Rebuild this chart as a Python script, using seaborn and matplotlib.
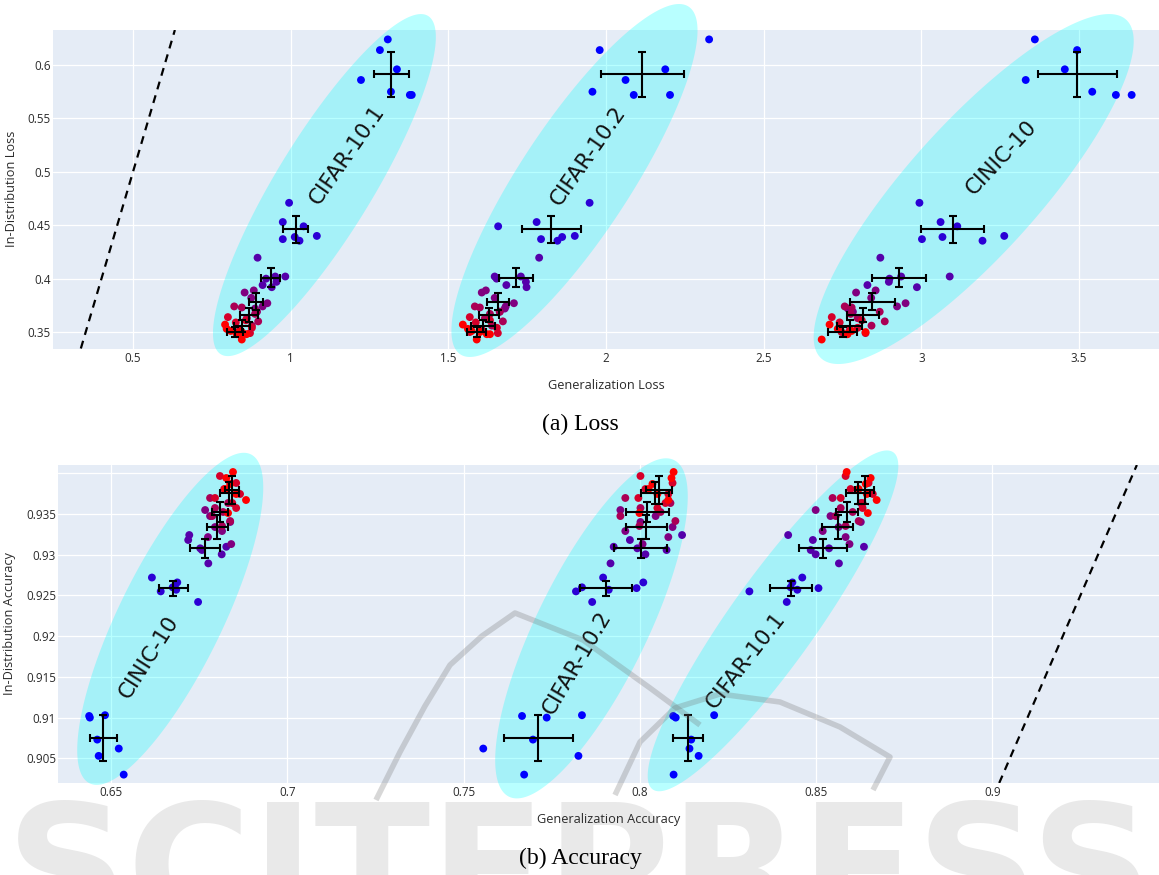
import numpy as np
import pandas as pd
import matplotlib
matplotlib.use("Agg")
import matplotlib.pyplot as plt
from matplotlib.lines import Line2D
import seaborn as sns

DATASETS = ["CIFAR-10.1", "CIFAR-10.2", "CINIC-10"]

# ---- Loss: one row per training stage (early -> late), one value per run ----
loss_id = [
    [0.624, 0.614, 0.596, 0.586, 0.575, 0.572, 0.572],
    [0.471, 0.453, 0.437, 0.449, 0.439, 0.4355, 0.440],
    [0.4196, 0.400, 0.402, 0.402, 0.394, 0.392, 0.397],
    [0.387, 0.389, 0.382, 0.377, 0.374, 0.369, 0.372],
    [0.374, 0.373, 0.369, 0.360, 0.363, 0.356, 0.367],
    [0.364, 0.359, 0.352, 0.361, 0.349, 0.354, 0.350],
    [0.357, 0.353, 0.351, 0.350, 0.343, 0.348, 0.348],
]
loss_cifar101 = [
    [1.308, 1.283, 1.337, 1.223, 1.318, 1.378, 1.384],
    [0.995, 0.975, 0.975, 1.041, 1.013, 1.028, 1.083],
    [0.895, 0.922, 0.951, 0.983, 0.911, 0.940, 0.955],
    [0.854, 0.883, 0.875, 0.926, 0.911, 0.893, 0.887],
    [0.821, 0.845, 0.892, 0.897, 0.861, 0.877, 0.887],
    [0.801, 0.826, 0.839, 0.858, 0.871, 0.877, 0.845],
    [0.792, 0.797, 0.810, 0.839, 0.845, 0.860, 0.829],
]
loss_cifar102 = [
    [2.327, 1.980, 2.188, 2.062, 1.957, 2.088, 2.203],
    [1.948, 1.780, 1.794, 1.658, 1.861, 1.846, 1.901],
    [1.788, 1.653, 1.647, 1.730, 1.684, 1.748, 1.746],
    [1.606, 1.619, 1.647, 1.708, 1.682, 1.663, 1.679],
    [1.584, 1.600, 1.663, 1.673, 1.616, 1.638, 1.632],
    [1.568, 1.587, 1.606, 1.632, 1.657, 1.654, 1.568],
    [1.546, 1.562, 1.574, 1.600, 1.590, 1.632, 1.622],
]
loss_cinic = [
    [3.360, 3.494, 3.455, 3.331, 3.542, 3.617, 3.667],
    [2.994, 3.061, 3.002, 3.114, 3.067, 3.194, 3.263],
    [2.870, 2.899, 2.936, 3.090, 2.829, 2.986, 2.897],
    [2.793, 2.855, 2.841, 2.950, 2.923, 2.783, 2.767],
    [2.757, 2.779, 2.868, 2.884, 2.798, 2.842, 2.776],
    [2.716, 2.741, 2.773, 2.811, 2.823, 2.798, 2.747],
    [2.709, 2.735, 2.779, 2.823, 2.684, 2.766, 2.763],
]

# ---- Accuracy ----
acc_id = [
    [0.9100, 0.9102, 0.9103, 0.9073, 0.9053, 0.9062, 0.9030],
    [0.9272, 0.9266, 0.9260, 0.9259, 0.9257, 0.9255, 0.9242],
    [0.93242, 0.93181, 0.93098, 0.93079, 0.93058, 0.93005, 0.92894],
    [0.93549, 0.93475, 0.93402, 0.93340, 0.93291, 0.93217, 0.93131],
    [0.93697, 0.93635, 0.93574, 0.93525, 0.93475, 0.93414, 0.93353],
    [0.93967, 0.93881, 0.93807, 0.93746, 0.93697, 0.93635, 0.93574],
    [0.94016, 0.93942, 0.93869, 0.93807, 0.93746, 0.93672, 0.93512],
]
acc_cifar101 = [
    [0.8102, 0.8095, 0.8211, 0.8146, 0.8167, 0.8141, 0.8096],
    [0.8461, 0.8433, 0.8428, 0.8507, 0.8447, 0.8311, 0.8417],
    [0.8421, 0.8491, 0.8636, 0.8537, 0.8485, 0.8499, 0.8565],
    [0.8499, 0.8541, 0.8627, 0.8564, 0.8519, 0.8584, 0.8595],
    [0.8547, 0.8627, 0.8570, 0.8604, 0.8556, 0.8621, 0.8584],
    [0.8584, 0.8649, 0.8598, 0.8661, 0.8570, 0.8632, 0.8632],
    [0.8587, 0.8655, 0.8641, 0.8621, 0.8644, 0.8672, 0.8647],
]
acc_cifar102 = [
    [0.7736, 0.7666, 0.7836, 0.7697, 0.7826, 0.7556, 0.7672],
    [0.7896, 0.8010, 0.7836, 0.7991, 0.7912, 0.7819, 0.7865],
    [0.8120, 0.7972, 0.7926, 0.7993, 0.8076, 0.8016, 0.7917],
    [0.7945, 0.8045, 0.8002, 0.8093, 0.7959, 0.8081, 0.8008],
    [0.7959, 0.8087, 0.8002, 0.8059, 0.7945, 0.8101, 0.7999],
    [0.8002, 0.8093, 0.8016, 0.8081, 0.7996, 0.8073, 0.8050],
    [0.8096, 0.8090, 0.8036, 0.8025, 0.8050, 0.8081, 0.7999],
]
acc_cinic = [
    [0.6440, 0.6438, 0.6483, 0.6461, 0.6465, 0.6522, 0.6536],
    [0.6616, 0.6688, 0.6675, 0.6682, 0.6685, 0.6641, 0.6747],
    [0.6722, 0.6719, 0.6827, 0.6753, 0.6758, 0.6814, 0.6776],
    [0.6767, 0.6781, 0.6838, 0.6795, 0.6815, 0.6775, 0.6841],
    [0.6781, 0.6832, 0.6795, 0.6818, 0.6787, 0.6838, 0.6815],
    [0.6809, 0.6855, 0.6821, 0.6866, 0.6795, 0.6844, 0.6855],
    [0.6846, 0.6827, 0.6838, 0.6824, 0.6855, 0.6883, 0.6832],
]

loss_xticks = [0.5, 1, 1.5, 2, 2.5, 3, 3.5]
loss_xticklabels = ["0.5", "1", "1.5", "2", "2.5", "3", "3.5"]
loss_yticks = [0.35, 0.4, 0.45, 0.5, 0.55, 0.6]
loss_yticklabels = ["0.35", "0.4", "0.45", "0.5", "0.55", "0.6"]
acc_xticks = [0.65, 0.7, 0.75, 0.8, 0.85, 0.9]
acc_xticklabels = ["0.65", "0.7", "0.75", "0.8", "0.85", "0.9"]
acc_yticks = [0.905, 0.91, 0.915, 0.92, 0.925, 0.93, 0.935, 0.94]
acc_yticklabels = ["0.905", "0.91", "0.915", "0.92", "0.925", "0.93", "0.935", ""]


def to_frame(id_vals, gen_by_dataset):
    rows = []
    for name, gen in zip(DATASETS, gen_by_dataset):
        for stage, (ys, xs) in enumerate(zip(id_vals, gen)):
            for x, y in zip(xs, ys):
                rows.append({"dataset": name, "stage": stage, "gen": x, "id": y})
    return pd.DataFrame(rows).sort_values("stage", kind="stable")


loss_df = to_frame(loss_id, [loss_cifar101, loss_cifar102, loss_cinic])
acc_df = to_frame(acc_id, [acc_cifar101, acc_cifar102, acc_cinic])

# stage colour: blue (early) -> red (late)
n_stages = len(loss_id)
stage_palette = {k: (k / (n_stages - 1), 0.0, 1.0 - k / (n_stages - 1)) for k in range(n_stages)}

# highlighted regions: centre, conjugate half-axes (data units), label placement
loss_regions = [
    dict(name="CIFAR-10.1", center=(1.107, 0.4876), major=(0.3286, 0.1584),
         minor=(-0.1300, 0.0235), text=(1.178, 0.5157), angle=55),
    dict(name="CIFAR-10.2", center=(1.900, 0.4919), major=(0.3620, 0.1628),
         minor=(-0.1458, 0.0283), text=(1.942, 0.5148), angle=55),
    dict(name="CINIC-10", center=(3.166, 0.4839), major=(0.4834, 0.1586),
         minor=(-0.1545, 0.0411), text=(3.254, 0.5129), angle=47),
]
acc_regions = [
    dict(name="CINIC-10", center=(0.6668, 0.92213), major=(0.02287, 0.02020),
         minor=(-0.01316, 0.00279), text=(0.6606, 0.91737), angle=57.5),
    dict(name="CIFAR-10.2", center=(0.7863, 0.92096), major=(0.02341, 0.02067),
         minor=(-0.01407, 0.00298), text=(0.7822, 0.91666), angle=59.5),
    dict(name="CIFAR-10.1", center=(0.8378, 0.92188), major=(0.03413, 0.02070),
         minor=(-0.00994, 0.00307), text=(0.8300, 0.91694), angle=52),
]

sns.set_theme(style="darkgrid", rc={
    "axes.facecolor": "#E5ECF6",
    "grid.color": "white",
    "grid.linewidth": 0.9,
    "axes.edgecolor": "none",
})
plt.rcParams["font.family"] = ["Open Sans", "DejaVu Sans"]

TXT = "#2b2b2b"
W, H = 1159, 875
fig = plt.figure(figsize=(W / 100, H / 100), dpi=100)
ax_loss = fig.add_axes([53 / W, 1 - 348.5 / H, (W - 53) / W, 318.5 / H])
ax_acc = fig.add_axes([58 / W, 1 - 783 / H, (W - 58) / W, 318 / H])


def draw_panel(ax, df, regions, xlim, ylim, xticks, xticklabels, yticks, yticklabels,
               xlabel, ylabel):
    ax.set_xlim(*xlim)
    ax.set_ylim(*ylim)
    ax.set_axisbelow(True)

    t = np.linspace(0, 2 * np.pi, 240)
    for r in regions:
        cx, cy = r["center"]
        ux, uy = r["major"]
        vx, vy = r["minor"]
        ax.fill(cx + ux * np.cos(t) + vx * np.sin(t),
                cy + uy * np.cos(t) + vy * np.sin(t),
                color="#00FFFF", alpha=0.28, lw=0, clip_on=False, zorder=1)
        ax.text(r["text"][0], r["text"][1], r["name"], rotation=r["angle"],
                rotation_mode="anchor", ha="center", va="center",
                fontsize=15.5, color="#111111", family="DejaVu Sans", zorder=6)

    # identity line
    ax.axline((xlim[0], xlim[0]), slope=1, color="black", lw=1.6,
              ls=(0, (3.6, 2.8)), zorder=2)

    sns.scatterplot(data=df, x="gen", y="id", hue="stage", palette=stage_palette,
                    s=32, linewidth=0, legend=False, ax=ax, zorder=3)

    stats = df.groupby(["dataset", "stage"]).agg(
        gx=("gen", "mean"), gy=("id", "mean"), sx=("gen", "std"), sy=("id", "std"))
    ax.errorbar(stats["gx"], stats["gy"], xerr=stats["sx"], yerr=stats["sy"],
                fmt="none", ecolor="black", elinewidth=1.5, capsize=3.2,
                capthick=1.5, zorder=4)

    ax.set_xticks(xticks, xticklabels)
    ax.set_yticks(yticks, yticklabels)
    ax.tick_params(axis="both", length=0, labelsize=8.4, labelcolor=TXT)
    ax.tick_params(axis="x", pad=2.5)
    ax.tick_params(axis="y", pad=1.5)
    ax.set_xlabel(xlabel, fontsize=9.2, color=TXT, labelpad=10)
    ax.set_ylabel(ylabel, fontsize=9.2, color=TXT, labelpad=7)
    for s in ax.spines.values():
        s.set_visible(False)


draw_panel(ax_loss, loss_df, loss_regions, (0.2463, 3.7537), (0.3346, 0.6328),
           loss_xticks, loss_xticklabels, loss_yticks, loss_yticklabels,
           "Generalization Loss", "In-Distribution Loss")
draw_panel(ax_acc, acc_df, acc_regions, (0.63496, 0.9473), (0.90197, 0.94102),
           acc_xticks, acc_xticklabels, acc_yticks, acc_yticklabels,
           "Generalization Accuracy", "In-Distribution Accuracy")

fig.text(580 / W, 1 - 424 / H, "(a) Loss", ha="center", va="center",
         fontsize=17, family="Liberation Serif", color="black", zorder=5)
fig.text(580 / W, 1 - 858 / H, "(b) Accuracy", ha="center", va="center",
         fontsize=17, family="Liberation Serif", color="black", zorder=5)

# publisher watermark
fig.text(0.5, 1 - 797 / H, "SCITEPRESS", ha="center", va="top", fontsize=122,
         fontweight="bold", family="DejaVu Sans", color="#e9e9e9", zorder=-1)
logo_strokes = [
    [(376, 800), (400, 752), (425, 706), (450, 665), (482, 636), (515, 613),
     (583, 640), (650, 688), (700, 725)],
    [(615, 795), (640, 742), (675, 708), (720, 694), (780, 702), (840, 727),
     (890, 757), (873, 790)],
]
for stroke in logo_strokes:
    xs = [p[0] / W for p in stroke]
    ys = [1 - p[1] / H for p in stroke]
    fig.add_artist(Line2D(xs, ys, transform=fig.transFigure, color="#707070",
                          alpha=0.28, lw=4, solid_capstyle="butt",
                          solid_joinstyle="round", zorder=20))

fig.savefig("out.png", dpi=100)
